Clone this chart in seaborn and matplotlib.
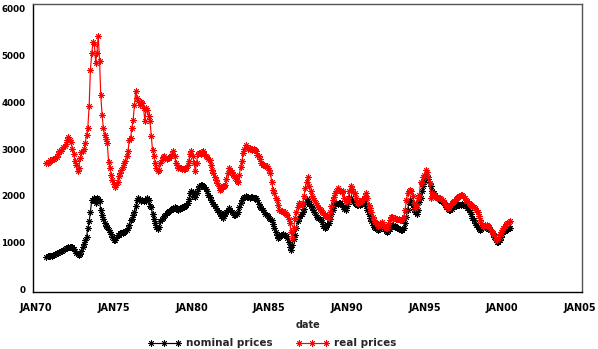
import numpy as np
import pandas as pd
import matplotlib
matplotlib.use("Agg")
import matplotlib.pyplot as plt
import matplotlib.dates as mdates
from matplotlib.ticker import FuncFormatter, MultipleLocator
from matplotlib.lines import Line2D
import seaborn as sns

# ---------------- data (monthly, Sep 1970 .. Jul 2000) ----------------
start_month = "1970-09-01"
series_names = ["nominal prices", "real prices"]
series_colors = ["#000000", "#ff0000"]

nominal_prices = [
    690, 700, 700, 710,                                                   # 1970 Sep-Dec
    710, 720, 730, 760, 770, 780, 790, 810, 820, 840, 850, 870,          # 1971
    880, 890, 900, 910, 890, 860, 820, 770, 740, 730, 760, 820,          # 1972
    900, 960, 1050, 1120, 1300, 1450, 1660, 1900, 1910, 1960, 1850, 1950,  # 1973
    1930, 1880, 1700, 1580, 1500, 1410, 1360, 1330, 1260, 1220, 1180, 1120,  # 1974
    1060, 1040, 1100, 1150, 1160, 1190, 1200, 1210, 1230, 1250, 1270, 1300,  # 1975
    1380, 1470, 1500, 1580, 1650, 1770, 1900, 1950, 1920, 1880, 1900, 1880,  # 1976
    1900, 1880, 1950, 1900, 1780, 1750, 1600, 1500, 1420, 1330, 1290, 1330,  # 1977
    1450, 1500, 1530, 1560, 1590, 1620, 1640, 1670, 1700, 1720, 1740, 1760,  # 1978
    1740, 1720, 1700, 1710, 1730, 1750, 1760, 1780, 1800, 1850, 1920, 2050,  # 1979
    2100, 2080, 2000, 1970, 2050, 2150, 2200, 2230, 2220, 2200, 2190, 2150,  # 1980
    2100, 2020, 1980, 1900, 1860, 1830, 1780, 1740, 1700, 1660, 1620, 1560,  # 1981
    1520, 1560, 1620, 1660, 1700, 1730, 1700, 1650, 1620, 1580, 1590, 1600,  # 1982
    1640, 1760, 1840, 1900, 1950, 1980, 1990, 1970, 1980, 1960, 1980, 1970,  # 1983
    1960, 1950, 1940, 1900, 1830, 1760, 1730, 1690, 1640, 1600, 1580, 1560,  # 1984
    1530, 1500, 1470, 1400, 1300, 1230, 1150, 1090, 1110, 1160, 1150, 1170,  # 1985
    1160, 1140, 1100, 1000, 900, 840, 950, 1080, 1160, 1300, 1450, 1520,     # 1986
    1560, 1600, 1660, 1720, 1850, 1920, 1880, 1830, 1780, 1760, 1700, 1650,  # 1987
    1580, 1540, 1520, 1500, 1480, 1440, 1360, 1300, 1330, 1380, 1420, 1500,  # 1988
    1600, 1700, 1780, 1840, 1850, 1830, 1840, 1850, 1800, 1760, 1720, 1700,  # 1989
    1780, 1860, 1940, 1950, 1900, 1860, 1840, 1820, 1800, 1790, 1800, 1820,  # 1990
    1830, 1840, 1850, 1780, 1700, 1600, 1530, 1450, 1380, 1330, 1300, 1280,  # 1991
    1270, 1290, 1320, 1340, 1330, 1290, 1250, 1230, 1250, 1290, 1330, 1360,  # 1992
    1370, 1340, 1320, 1300, 1290, 1280, 1270, 1260, 1300, 1420, 1550, 1700,  # 1993
    1860, 1910, 1850, 1800, 1720, 1660, 1600, 1700, 1860, 1950, 2100, 2200,  # 1994
    2300, 2400, 2430, 2350, 2270, 2200, 2100, 2050, 2000, 1980, 1950, 1930,  # 1995
    1910, 1890, 1860, 1840, 1800, 1760, 1720, 1700, 1700, 1720, 1750, 1770,  # 1996
    1780, 1790, 1800, 1800, 1810, 1820, 1810, 1800, 1770, 1730, 1690, 1660,  # 1997
    1600, 1530, 1480, 1420, 1370, 1320, 1280, 1260, 1290, 1310, 1340, 1320,  # 1998
    1300, 1290, 1280, 1260, 1230, 1180, 1120, 1060, 1010, 1000, 1050, 1120,  # 1999
    1180, 1220, 1250, 1270, 1280, 1300, 1310,                              # 2000 Jan-Jul
]

real_prices = [
    2700, 2700, 2720, 2760,                                                   # 1970 Sep-Dec
    2770, 2790, 2780, 2800, 2830, 2900, 2950, 2960, 3000, 3050, 3070, 3100,  # 1971
    3200, 3250, 3200, 3150, 3000, 2900, 2750, 2650, 2520, 2600, 2800, 2930,  # 1972
    2950, 3000, 3130, 3300, 3450, 3930, 4700, 5050, 5300, 5250, 4850, 5060,  # 1973
    5430, 4880, 4160, 3730, 3450, 3300, 3210, 3130, 2730, 2600, 2450, 2340,  # 1974
    2250, 2190, 2230, 2300, 2420, 2480, 2560, 2620, 2700, 2750, 2850, 2950,  # 1975
    3200, 3240, 3450, 3630, 3950, 4250, 4100, 4020, 3950, 4000, 3980, 3880,  # 1976
    3600, 3880, 3840, 3700, 3590, 3270, 2970, 2850, 2700, 2600, 2520, 2550,  # 1977
    2700, 2770, 2820, 2840, 2800, 2780, 2800, 2810, 2850, 2900, 2950, 2850,  # 1978
    2700, 2650, 2600, 2590, 2600, 2580, 2570, 2570, 2600, 2650, 2750, 2900,  # 1979
    2950, 2850, 2700, 2520, 2700, 2900, 2920, 2900, 2930, 2950, 2900, 2850,  # 1980
    2820, 2790, 2760, 2650, 2550, 2480, 2400, 2330, 2270, 2200, 2130, 2150,  # 1981
    2180, 2200, 2230, 2350, 2480, 2590, 2560, 2500, 2450, 2420, 2380, 2310,  # 1982
    2300, 2450, 2620, 2750, 2910, 3000, 3090, 3050, 3000, 3020, 3000, 2980,  # 1983
    2990, 2980, 2950, 2870, 2840, 2780, 2700, 2660, 2650, 2640, 2630, 2600,  # 1984
    2560, 2480, 2300, 2130, 2050, 1950, 1900, 1800, 1700, 1680, 1670, 1650,  # 1985
    1640, 1610, 1590, 1500, 1410, 1230, 1100, 1300, 1520, 1650, 1750, 1840,  # 1986
    1830, 1810, 1850, 2000, 2160, 2300, 2410, 2200, 2090, 2000, 1950, 1900,  # 1987
    1850, 1800, 1760, 1720, 1690, 1650, 1620, 1580, 1560, 1540, 1520, 1650,  # 1988
    1780, 1910, 1980, 2050, 2100, 2160, 2120, 2090, 2080, 2090, 1950, 1880,  # 1989
    1870, 1950, 2100, 2200, 2150, 2080, 2050, 1950, 1840, 1850, 1870, 1880,  # 1990
    1900, 1950, 2000, 2050, 1950, 1800, 1730, 1650, 1550, 1480, 1440, 1400,  # 1991
    1340, 1380, 1420, 1440, 1400, 1350, 1310, 1300, 1400, 1480, 1550, 1540,  # 1992
    1530, 1520, 1510, 1500, 1490, 1480, 1470, 1490, 1550, 1700, 1900, 2050,  # 1993
    2090, 2120, 2100, 2000, 1850, 1740, 1800, 1950, 2020, 2300, 2270, 2400,  # 1994
    2450, 2550, 2500, 2400, 2270, 1950, 2050, 2020, 2000, 1980, 1960, 1950,  # 1995
    1940, 1920, 1900, 1870, 1820, 1780, 1740, 1760, 1800, 1840, 1860, 1880,  # 1996
    1920, 1950, 1980, 2000, 2010, 2020, 1990, 1950, 1910, 1880, 1850, 1820,  # 1997
    1800, 1780, 1760, 1730, 1700, 1640, 1560, 1480, 1420, 1360, 1340, 1370,  # 1998
    1370, 1360, 1320, 1280, 1230, 1200, 1150, 1080, 1050, 1100, 1180, 1230,  # 1999
    1260, 1300, 1350, 1400, 1420, 1440, 1450,                                # 2000 Jan-Jul
]

y_ticks = [0, 1000, 2000, 3000, 4000, 5000, 6000]
x_tick_years = [1970, 1975, 1980, 1985, 1990, 1995, 2000, 2005]

# ---------------- build long table ----------------
df = pd.concat([
    pd.DataFrame({"date": pd.date_range(start_month, periods=len(vals), freq="MS"),
                  "price": vals, "series": name})
    for name, vals in zip(series_names, [nominal_prices, real_prices])
], ignore_index=True)

sns.set_style("white")
plt.rcParams["font.family"] = ["DejaVu Sans"]

fig = plt.figure(figsize=(5.98, 3.49), dpi=100)
ax = fig.add_axes([33 / 598, 1 - 292 / 349, (582 - 33) / 598, (292 - 4) / 349])

star = (8, 2, 0)
for name, col in zip(series_names, series_colors):
    sns.lineplot(data=df[df["series"] == name], x="date", y="price", ax=ax,
                 color=col, marker=star, markersize=4.6, markeredgewidth=0.65,
                 markeredgecolor=col, markerfacecolor=col, linewidth=0.85,
                 legend=False)

# axes limits
ax.set_xlim(pd.Timestamp("1969-10-20"), pd.Timestamp("2005-02-20"))
ax.set_ylim(-64, 6107)

# y ticks
ax.set_yticks(y_ticks)
ax.yaxis.set_minor_locator(MultipleLocator(100))
# x ticks
ax.set_xticks([mdates.date2num(pd.Timestamp(f"{y}-01-01")) for y in x_tick_years])
ax.set_xticks([mdates.date2num(pd.Timestamp(f"{y}-{m:02d}-01"))
               for y in range(1970, 2005) for m in (1, 7)], minor=True)
ax.xaxis.set_major_formatter(FuncFormatter(
    lambda v, p: mdates.num2date(v).strftime("%b%y").upper()))

ax.tick_params(axis="both", which="major", direction="out", length=4, width=1,
               colors="black")
ax.tick_params(axis="both", which="minor", direction="out", length=2.5, width=0.8,
               colors="black")
ax.tick_params(axis="y", which="major", pad=1.5, labelsize=6.3)
ax.tick_params(axis="x", which="major", pad=4, labelsize=7)
for lab in ax.get_xticklabels() + ax.get_yticklabels():
    lab.set_fontweight("bold")

for s in ax.spines.values():
    s.set_visible(True)
    s.set_color("black")
    s.set_linewidth(1)
ax.spines["top"].set_color("#555555")
ax.spines["right"].set_color("#555555")

ax.set_xlabel("date", fontsize=7, fontweight="bold", labelpad=5)
ax.set_ylabel("")
ax.grid(False)

handles = [Line2D([0], [0], color=c, marker=star, markersize=4.6, markeredgewidth=0.65,
                  markeredgecolor=c, linewidth=0.85) for c in series_colors]
leg = fig.legend(handles, series_names, loc="lower center", bbox_to_anchor=(0.455, -0.025),
                 ncol=2, frameon=False, numpoints=3, handlelength=3.2,
                 columnspacing=2.2, handletextpad=0.5,
                 prop={"size": 7.5, "weight": "bold"})

fig.savefig("out.png", dpi=100)
